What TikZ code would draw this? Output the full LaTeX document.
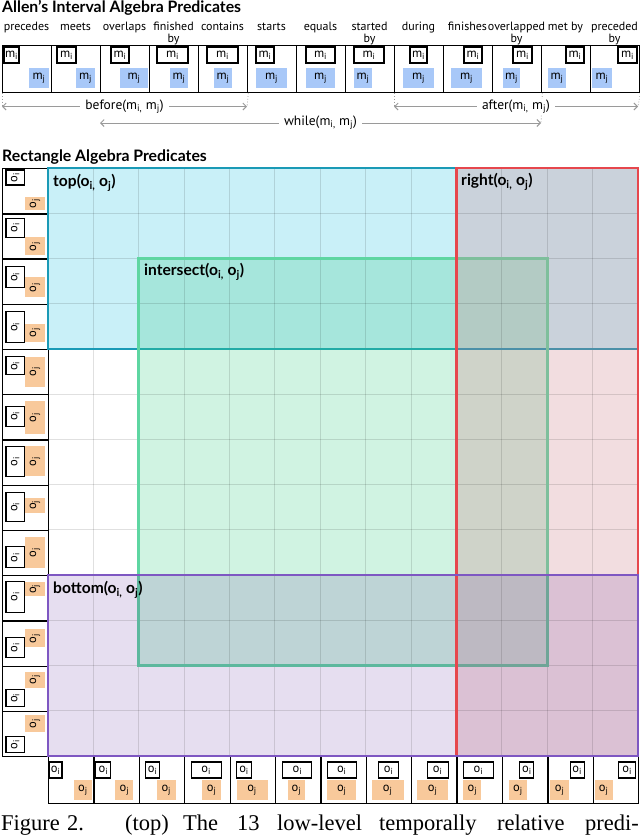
\documentclass[tikz,border=0pt]{standalone}
\usepackage{graphicx}
\usepackage{fontspec}
\setmainfont{PT Sans}
\newfontfamily\capfont{Liberation Serif}
\newfontfamily\boldlbl{Lato}
\usetikzlibrary{arrows.meta}
\definecolor{cT}{HTML}{C9F0F8}
\definecolor{cTR}{HTML}{CAD2DB}
\definecolor{cTI}{HTML}{A6E6DC}
\definecolor{cTIR}{HTML}{B3CBC4}
\definecolor{cI}{HTML}{D0F3E2}
\definecolor{cIR}{HTML}{CFD3C9}
\definecolor{cR}{HTML}{F2DDE0}
\definecolor{cB}{HTML}{E6DEF0}
\definecolor{cBI}{HTML}{BED4D6}
\definecolor{cBIR}{HTML}{BDB9C2}
\definecolor{cBR}{HTML}{DBC1D4}
\definecolor{lnT}{HTML}{1A9AB6}
\definecolor{lnTI}{HTML}{22ABA6}
\definecolor{lnTR}{HTML}{4B90A8}
\definecolor{lnI}{HTML}{5ED6A2}
\definecolor{lnIB}{HTML}{5DB89E}
\definecolor{lnIR}{HTML}{7EBF9C}
\definecolor{lnIBR}{HTML}{6FA597}
\definecolor{lnR}{HTML}{E6474D}
\definecolor{lnB}{HTML}{7E57C2}
\definecolor{mblue}{HTML}{A8C8F8}
\definecolor{oorange}{HTML}{F8C99B}
\definecolor{arrgray}{HTML}{9A9A9A}
\tikzset{
  cellbox/.style={draw=black, line width=1.3pt, fill=white, inner sep=0pt},
  ibox/.style={draw=black, line width=1.1pt, fill=white, inner sep=0pt, font=\fontsize{12.5}{12.5}\selectfont},
  jblue/.style={fill=mblue, inner sep=0pt, font=\fontsize{12.5}{12.5}\selectfont},
  jorange/.style={fill=oorange, inner sep=0pt, font=\fontsize{12.5}{12.5}\selectfont},
  toplbl/.style={anchor=base, inner sep=0pt, font=\fontsize{12}{12}\selectfont},
  titlelbl/.style={anchor=base west, inner sep=0pt, font=\boldlbl\bfseries\fontsize{15.8}{16}\selectfont},
  glbl/.style={anchor=base west, inner sep=0pt, font=\boldlbl\bfseries\fontsize{15.6}{16}\selectfont},
  garr/.style={draw=arrgray, line width=0.9pt, {Straight Barb[length=3.5pt,width=7pt]}-{Straight Barb[length=3.5pt,width=7pt]}},
  alab/.style={fill=white, inner xsep=5pt, inner ysep=1pt, text=black, font=\fontsize{13.5}{14}\selectfont},
  gdot/.style={draw=arrgray, line width=0.8pt, dotted},
  gridln/.style={draw=black, draw opacity=0.12, line width=1pt},
  bT/.style={line width=2.6pt, draw=lnT},
  bI/.style={line width=2.6pt, draw=lnI},
  bR/.style={line width=2.6pt, draw=lnR},
  bB/.style={line width=2.2pt, draw=lnB},
  capword/.style={anchor=base west, inner sep=0pt, font=\capfont\fontsize{22.5}{24}\selectfont}
}
\begin{document}
\begin{tikzpicture}[x=1pt,y=-1pt]
\useasboundingbox (0,0) rectangle (640,836);
\fill[white] (0,0) rectangle (640,836);

% ---------- Allen's interval algebra ----------
\node[titlelbl] (t1) at (2,12) {Allen’s Interval Algebra Predicates};

\foreach \k/\a/\b/\c/\d in {1/2/17/27/47, 2/6/25/25/44, 3/11/29/20/48, 4/8/39/21/39, 5/9/40/16/34, 6/9/27/9/40, 7/10/39/10/39, 8/9/39/9/27, 9/16/33/9/40, 10/21/39/8/39, 11/21/40/11/28, 12/25/43/7/25, 13/28/47/2/22}{
  \pgfmathsetmacro\xo{2+49*(\k-1)}
  \node[cellbox, minimum width=49pt, minimum height=47pt, anchor=north west] (tc\k) at (\xo,45) {};
  \node[jblue, minimum width={(\d-\c)*1pt}, minimum height=20pt] (tj\k) at ({\xo+(\c+\d)/2},78) {m\textsubscript{j}};
  \node[ibox, minimum width={(\b-\a)*1pt}, minimum height=16pt] (ti\k) at ({\xo+(\a+\b)/2},55) {m\textsubscript{i}};
}
\foreach \k/\t in {1/precedes, 2/meets, 3/overlaps, 4/finished, 5/contains, 6/starts, 7/equals, 8/started, 9/during, 10/finishes, 11/overlapped, 12/met by, 13/preceded}{
  \node[toplbl] (tl\k) at ({2+49*(\k-0.5)},30.5) {\t};
}
\foreach \k in {4,8,11,13}{
  \node[toplbl] (tb\k) at ({2+49*(\k-0.5)},42) {by};
}

\coordinate (bfL) at (2,106.5);
\coordinate (bfR) at (247,106.5);
\coordinate (afL) at (394,106.5);
\coordinate (afR) at (638,106.5);
\coordinate (whL) at (100,123);
\coordinate (whR) at (541,123);
\draw[gdot] (tc1.south west) -- (bfL);
\draw[gdot] (tc5.south east) -- (bfR);
\draw[gdot] (tc9.south west) -- (afL);
\draw[gdot] (tc13.south east) -- (afR);
\draw[gdot] (tc11.south east) -- (whR);
\draw[garr] (bfL) -- node[alab] (lbf) {before(m\textsubscript{i,} m\textsubscript{j})} (bfR);
\draw[garr] (afL) -- node[alab] (laf) {after(m\textsubscript{i,} m\textsubscript{j})} (afR);
\draw[garr] (whL) -- node[alab] (lwh) {while(m\textsubscript{i,} m\textsubscript{j})} (whR);

% ---------- Rectangle algebra ----------
\node[titlelbl] (t2) at (2,161.5) {Rectangle Algebra Predicates};

% region fills
\fill[cT] (48,168) rectangle (138.77,348.92);
\fill[cT] (138.77,168) rectangle (456.46,258.46);
\fill[cTI] (138.77,258.46) rectangle (456.46,348.92);
\fill[cTR] (456.46,168) rectangle (547.23,258.46);
\fill[cTR] (547.23,168) rectangle (638,348.92);
\fill[cTIR] (456.46,258.46) rectangle (547.23,348.92);
\fill[cI] (138.77,348.92) rectangle (456.46,575.08);
\fill[cIR] (456.46,348.92) rectangle (547.23,575.08);
\fill[cR] (547.23,348.92) rectangle (638,575.08);
\fill[cB] (48,575.08) rectangle (138.77,756);
\fill[cB] (138.77,665.54) rectangle (456.46,756);
\fill[cBI] (138.77,575.08) rectangle (456.46,665.54);
\fill[cBIR] (456.46,575.08) rectangle (547.23,665.54);
\fill[cBR] (456.46,665.54) rectangle (547.23,756);
\fill[cBR] (547.23,575.08) rectangle (638,756);

% grid lines
\foreach \k in {1,...,12}{
  \draw[gridln] ({48+45.3846*\k},168) -- ({48+45.3846*\k},756);
  \draw[gridln] (48,{168+45.2308*\k}) -- (638,{168+45.2308*\k});
}

% left column
\foreach \k/\a/\b/\c/\d in {1/2/17/29/42, 2/5/24/24/42, 3/8/29/19/39, 4/8/39/20/38, 5/8/26/8/38, 6/12/32/7/40, 7/7/37/7/37, 8/8/37/13/28, 9/17/38/7/38, 10/6/37/7/21, 11/17/37/9/27, 12/24/41/6/22, 13/26/42/4/21}{
  \pgfmathsetmacro\yo{168+45.2308*(\k-1)}
  \node[cellbox, minimum width=46pt, minimum height=45.23pt, anchor=north west] (lc\k) at (2,\yo) {};
  \node[jorange, minimum width=20pt, minimum height={(\d-\c)*1pt}] (lj\k) at (35,{\yo+(\c+\d)/2}) {\rotatebox{90}{o\textsubscript{j}}};
  \node[ibox, minimum width=18.5pt, minimum height={(\b-\a)*1pt}] (li\k) at (15.25,{\yo+(\a+\b)/2}) {\rotatebox{90}{o\textsubscript{i}}};
}

% bottom row
\foreach \k/\a/\b/\c/\d in {1/1.5/14/26/44, 2/2.5/17.5/22/40, 3/7/21/18/37, 4/7/37/18/37, 5/7/22/7/38, 6/8/37/13/30, 7/7/36/7/36, 8/13/33/6/38, 9/16/37/6/37, 10/7/37/7/25, 11/18/32/7/25, 12/23/37/3/22, 13/26/43/2/20}{
  \pgfmathsetmacro\xo{48+45.3846*(\k-1)}
  \node[cellbox, minimum width=45.38pt, minimum height=47pt, anchor=north west] (bc\k) at (\xo,756) {};
  \node[jorange, minimum width={(\d-\c)*1pt}, minimum height=20pt] (bj\k) at ({\xo+(\c+\d)/2},790) {o\textsubscript{j}};
  \node[ibox, minimum width={(\b-\a)*1pt}, minimum height=16pt] (bi\k) at ({\xo+(\a+\b)/2},770) {o\textsubscript{i}};
}

% region borders
\draw[bT] (456.46,168) -- (48,168) -- (48,348.92) -- (138.77,348.92);
\draw[bT, draw=lnTI] (138.77,348.92) -- (456.46,348.92);
\draw[bT, draw=lnTR] (456.46,348.92) -- (638,348.92);
\draw[bI] (456.46,258.46) -- (138.77,258.46) -- (138.77,575.08);
\draw[bI, draw=lnIB] (138.77,575.08) -- (138.77,665.54) -- (456.46,665.54);
\draw[bI, draw=lnIR] (456.46,258.46) -- (547.23,258.46) -- (547.23,575.08);
\draw[bI, draw=lnIBR] (547.23,575.08) -- (547.23,665.54) -- (456.46,665.54);
\draw[bR] (456.46,168) rectangle (638,756);
\draw[bB] (48,575.08) rectangle (638,756);

% region labels
\node[glbl] (ltop) at (53,186.5) {top(o\textsubscript{i,} o\textsubscript{j})};
\node[glbl] (lint) at (144,275) {intersect(o\textsubscript{i,} o\textsubscript{j})};
\node[glbl] (lrig) at (461,185.5) {right(o\textsubscript{i,} o\textsubscript{j})};
\node[glbl] (lbot) at (53,593.5) {bottom(o\textsubscript{i,} o\textsubscript{j})};

% caption
\node[capword] (w1) at (1,830) {Figure};
\node[capword] (w2) at (67,830) {2.};
\node[capword] (w3) at (125,830) {(top)};
\node[capword] (w4) at (183,830) {The};
\node[capword] (w5) at (237,830) {13};
\node[capword] (w6) at (277,830) {low-level};
\node[capword] (w7) at (379,830) {temporally};
\node[capword] (w8) at (497,830) {relative};
\node[capword, anchor=base east] (w9) at (639,830) {predi-};
\end{tikzpicture}
\end{document}
